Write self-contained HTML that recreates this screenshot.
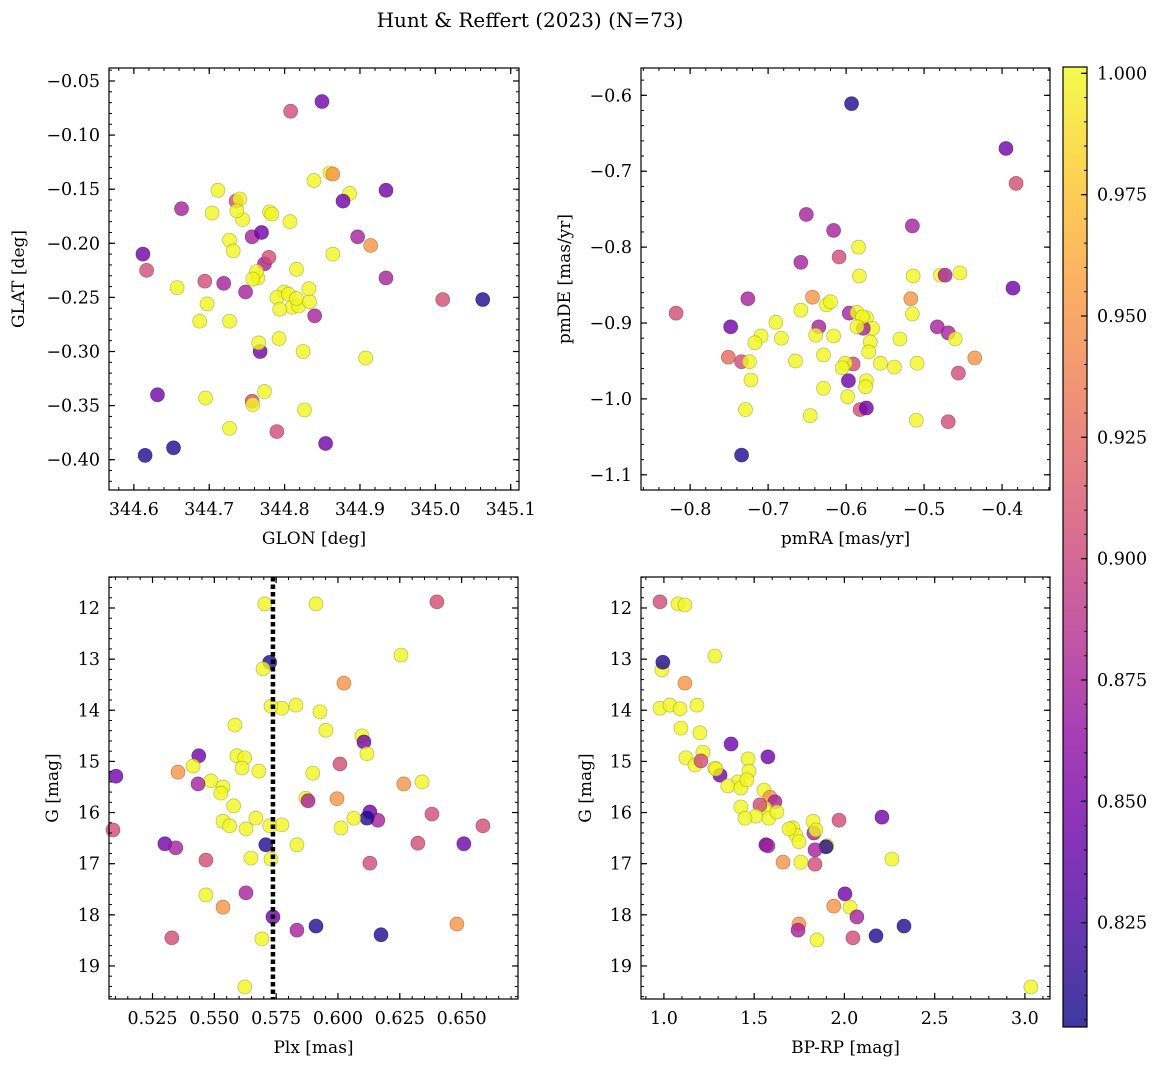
<!DOCTYPE html>
<html><head><meta charset="utf-8">
<style>
body{margin:0;background:#fff;}
svg{display:block;font-family:"DejaVu Serif","Liberation Serif",serif;}
</style></head>
<body>
<svg id="chart" width="1161" height="1067" viewBox="0 0 1161 1067" xmlns="http://www.w3.org/2000/svg">
<text x="530" y="27" font-size="20" text-anchor="middle">Hunt &amp; Reffert (2023) (N=73)</text>
</svg>
<script>
// ---- Panel 1: GLON vs GLAT ----
const p1Lon=[344.6120,344.6169,344.6632,344.6574,344.7115,344.7038,344.6941,344.6970,344.7192,344.6873,
344.7269,344.6951,344.6313,344.6149,344.6526,344.7269,344.7356,344.7404,344.7443,344.7366,
344.7269,344.7318,344.7569,344.7694,344.7733,344.7791,344.7646,344.7627,344.7578,344.7482,
344.7675,344.7656,344.7733,344.7569,344.7578,344.7897,344.7800,344.7829,344.8071,344.8080,
344.8496,344.8602,344.8640,344.8389,344.8862,344.8640,344.8969,344.9142,344.8775,344.9345,
344.9345,344.7993,344.7897,344.8051,344.8100,344.8187,344.8158,344.7935,344.8399,344.8331,
344.8322,344.7926,344.8158,344.8245,344.8264,344.8544,344.9075,345.0098,345.0629];
const p1Lat=[-0.210,-0.225,-0.168,-0.241,-0.151,-0.172,-0.235,-0.256,-0.237,-0.272,
-0.272,-0.343,-0.340,-0.396,-0.389,-0.371,-0.161,-0.159,-0.178,-0.170,
-0.197,-0.207,-0.194,-0.190,-0.219,-0.213,-0.232,-0.226,-0.233,-0.245,
-0.300,-0.292,-0.337,-0.346,-0.349,-0.374,-0.171,-0.173,-0.180,-0.078,
-0.069,-0.135,-0.136,-0.142,-0.154,-0.210,-0.194,-0.202,-0.161,-0.151,
-0.232,-0.245,-0.250,-0.247,-0.259,-0.258,-0.251,-0.261,-0.267,-0.254,
-0.242,-0.288,-0.224,-0.300,-0.354,-0.385,-0.306,-0.252,-0.252];
const p1Prob=[0.845,0.905,0.875,1,1,1,0.905,1,0.875,1,
1,1,0.845,0.81,0.81,1,0.905,1,1,1,
1,1,0.875,0.845,0.875,0.905,1,1,1,0.875,
0.845,1,1,0.905,1,0.905,1,1,1,0.905,
0.845,1,0.95,1,1,1,0.875,0.95,0.845,0.845,
0.875,1,1,1,1,1,1,1,0.875,1,
1,1,1,1,1,0.845,1,0.905,0.81];
// ---- Panel 2: pmRA vs pmDE ----
const p2Pmra=[-0.593,-0.395,-0.382,-0.651,-0.616,-0.515,-0.658,-0.609,-0.584,-0.583,
-0.514,-0.479,-0.473,-0.454,-0.386,-0.818,-0.726,-0.748,-0.643,-0.625,
-0.620,-0.596,-0.586,-0.574,-0.517,-0.515,-0.566,-0.531,-0.483,-0.469,
-0.460,-0.658,-0.690,-0.709,-0.717,-0.635,-0.639,-0.578,-0.579,-0.569,
-0.571,-0.616,-0.586,-0.629,-0.683,-0.665,-0.734,-0.724,-0.722,-0.591,
-0.601,-0.605,-0.556,-0.538,-0.509,-0.456,-0.435,-0.597,-0.574,-0.575,
-0.629,-0.598,-0.582,-0.574,-0.510,-0.469,-0.646,-0.729,-0.734,-0.751];
const p2Pmde=[-0.611,-0.670,-0.716,-0.757,-0.778,-0.772,-0.820,-0.813,-0.800,-0.838,
-0.838,-0.837,-0.837,-0.834,-0.854,-0.887,-0.868,-0.905,-0.866,-0.876,
-0.872,-0.887,-0.886,-0.893,-0.868,-0.888,-0.907,-0.921,-0.905,-0.913,
-0.921,-0.883,-0.899,-0.917,-0.926,-0.905,-0.916,-0.907,-0.892,-0.925,
-0.938,-0.917,-0.905,-0.942,-0.920,-0.950,-0.951,-0.951,-0.975,-0.954,
-0.953,-0.959,-0.953,-0.958,-0.953,-0.966,-0.946,-0.976,-0.976,-0.984,
-0.986,-0.997,-1.014,-1.012,-1.028,-1.030,-1.022,-1.014,-1.074,-0.945];
const p2Prob=[0.81,0.845,0.905,0.875,0.875,0.875,0.875,0.905,1,1,
1,1,0.875,1,0.845,0.905,0.875,0.845,0.95,1,
1,0.875,1,1,0.95,1,1,1,0.875,0.875,
1,1,1,1,1,0.875,1,0.875,1,1,
1,1,1,1,1,1,0.905,1,1,0.905,
1,1,1,1,1,0.905,0.95,0.845,1,1,
1,1,0.905,0.845,1,0.905,1,1,0.81,0.925];
// ---- Panel 3: Plx vs G ----
const p3Plx=[0.6400,0.5911,0.5704,0.5724,0.5697,0.6255,0.6024,0.5830,0.5773,0.5729,
0.5927,0.5951,0.5583,0.6097,0.6105,0.6117,0.5437,0.5591,0.5623,0.5612,
0.5414,0.6008,0.5102,0.5353,0.5680,0.5486,0.5535,0.5526,0.5434,0.5898,
0.6266,0.6340,0.5996,0.5870,0.5879,0.5578,0.5668,0.6129,0.6161,0.6117,
0.6064,0.5535,0.5562,0.5773,0.6012,0.5724,0.6380,0.5090,0.5628,0.5708,
0.5300,0.5344,0.5834,0.5729,0.5648,0.6323,0.6509,0.6586,0.6129,0.5466,
0.5466,0.5628,0.5535,0.5737,0.5911,0.5834,0.6174,0.5328,0.5692,0.6481,0.5623];
const p3G=[11.88,11.92,11.92,13.06,13.19,12.92,13.47,13.90,13.96,13.92,
14.03,14.39,14.29,14.50,14.62,14.85,14.89,14.89,14.93,15.13,
15.09,15.05,15.29,15.21,15.19,15.38,15.50,15.62,15.44,15.23,
15.44,15.40,15.73,15.72,15.77,15.87,16.11,15.99,16.15,16.11,
16.11,16.17,16.26,16.24,16.30,16.26,16.03,16.34,16.32,16.63,
16.61,16.69,16.63,16.91,16.89,16.60,16.61,16.26,16.99,16.93,
17.61,17.57,17.85,18.04,18.22,18.30,18.39,18.45,18.47,18.18,19.41];
const p3Prob=[0.905,1,1,0.81,1,1,0.95,1,1,1,
1,1,1,1,0.845,1,0.845,1,1,1,
1,0.905,0.845,0.95,1,1,1,1,0.875,1,
0.95,1,0.95,1,0.875,1,1,0.845,0.875,0.81,
1,1,1,1,1,1,0.905,0.905,1,0.81,
0.845,0.875,1,1,1,0.905,0.845,0.905,0.905,0.905,
1,0.875,0.95,0.845,0.81,0.875,0.81,0.905,1,0.95,1];
const p3Ref=[0.5737];
// ---- Panel 4: BP-RP vs G ----
const p4Bprp=[0.978,1.078,1.116,0.989,0.994,1.282,1.116,0.978,1.033,1.089,
1.183,1.094,1.372,1.199,1.216,1.122,1.172,1.205,1.282,1.311,
1.288,1.466,1.471,1.410,1.354,1.426,1.460,1.576,1.554,1.588,
1.615,1.559,1.532,1.581,1.626,1.426,1.509,1.449,1.970,1.826,
1.831,1.842,1.714,1.731,1.693,2.208,1.565,1.576,1.748,1.903,
1.898,1.837,1.660,1.759,2.263,1.837,2.003,2.031,1.941,2.069,
1.748,1.743,1.848,2.047,2.175,2.330,3.033];
const p4G=[11.88,11.92,11.94,13.21,13.06,12.94,13.47,13.96,13.90,13.97,
13.90,14.35,14.66,14.44,14.82,14.93,15.07,14.99,15.13,15.27,
15.15,14.95,15.19,15.40,15.48,15.52,15.36,14.91,15.56,15.70,
15.79,15.91,15.85,16.11,15.99,15.89,16.07,16.11,16.15,16.17,
16.40,16.34,16.30,16.44,16.32,16.09,16.63,16.65,16.57,16.65,
16.67,16.73,16.97,16.97,16.91,17.01,17.59,17.85,17.83,18.04,
18.18,18.30,18.49,18.45,18.41,18.22,19.41];
const p4Prob=[0.905,1,1,1,0.81,1,0.95,1,1,1,
1,1,0.845,1,1,1,1,0.905,1,0.845,
1,1,1,1,1,1,1,0.845,1,0.95,
0.875,1,0.905,1,1,1,1,1,0.905,1,
0.875,1,1,1,1,0.845,0.845,0.875,1,1,
0.81,0.875,0.95,1,1,0.905,0.845,1,0.95,0.875,
0.95,0.875,1,0.905,0.81,0.81,1];
// ---- colorbar ----
const cbTicks=[0.825,0.850,0.875,0.900,0.925,0.950,0.975,1.000];
const vmin=0.8035, vmax=1.0013;

const NS="http://www.w3.org/2000/svg";
const svg=document.getElementById('chart');
function el(tag,attrs,parent){const e=document.createElementNS(NS,tag);for(const k in attrs)e.setAttribute(k,attrs[k]);(parent||svg).appendChild(e);return e;}
const plasma=[[13,8,135],[65,4,157],[106,0,168],[143,13,164],[177,42,144],[204,71,120],[225,100,98],[242,132,75],[252,166,54],[252,206,37],[240,249,33]];
function cmap(v){let t=(v-vmin)/(vmax-vmin);t=Math.max(0,Math.min(1,t))*10;const i=Math.min(9,Math.floor(t)),f=t-i;const a=plasma[i],b=plasma[i+1];return a.map((c,k)=>Math.round(c+(b[k]-c)*f));}
function rgb(c){return 'rgb('+c.join(',')+')';}
function fmt(v,d){const s=Math.abs(v).toFixed(d);return (v<-1e-9?'\u2212':'')+s;}

function panel(cfg){
  const g=el('g',{});
  
  
  const {L,T,R,B}=cfg;
  const sx=v=>L+(v-cfg.x0)/(cfg.x1-cfg.x0)*(R-L);
  const sy=v=>T+(v-cfg.y0)/(cfg.y1-cfg.y0)*(B-T);
  const pg=el('g',{},g);
  
  
  const n=Math.min(cfg.xs.length,cfg.ys.length,cfg.ps.length);
  for(let i=0;i<n;i++){
    const c=cmap(cfg.ps[i]);
    const c2=c.map(v=>Math.round(v*0.6));
    const dot=el('circle',{cx:sx(cfg.xs[i]),cy:sy(cfg.ys[i]),r:7,fill:rgb(c),'fill-opacity':0.8,stroke:rgb(c2),'stroke-opacity':0.6,'stroke-width':0.7},pg);
    
    
  }
  if(cfg.vline){cfg.vline.forEach(v=>{const ln=el('line',{x1:sx(v),x2:sx(v),y1:T,y2:B,stroke:'#000','stroke-width':4.5,'stroke-dasharray':'4.5,3'},g);
    
    });}
  const fr=el('rect',{x:L,y:T,width:R-L,height:B-T,fill:'none',stroke:'#000','stroke-width':1.2},g);
  
  
  for(let v=cfg.xmin0;v<=cfg.x1+1e-9;v+=cfg.xminor){const x=sx(v);if(x<L-0.5||x>R+0.5)continue;
    el('line',{x1:x,x2:x,y1:B,y2:B-3,stroke:'#000','stroke-width':1},g);el('line',{x1:x,x2:x,y1:T,y2:T+3,stroke:'#000','stroke-width':1},g);}
  cfg.xticks.forEach(v=>{const x=sx(v);
    el('line',{x1:x,x2:x,y1:B,y2:B-6,stroke:'#000','stroke-width':1.2},g);el('line',{x1:x,x2:x,y1:T,y2:T+6,stroke:'#000','stroke-width':1.2},g);
    const t=el('text',{x:x,y:B+25,'font-size':17.5,'text-anchor':'middle'},g);t.textContent=fmt(v,cfg.xd);
    
    });
  const ylo=Math.min(cfg.y0,cfg.y1),yhi=Math.max(cfg.y0,cfg.y1);
  for(let v=cfg.ymin0;v<=yhi+1e-9;v+=cfg.yminor){if(v<ylo-1e-9)continue;const y=sy(v);
    el('line',{x1:L,x2:L+3,y1:y,y2:y,stroke:'#000','stroke-width':1},g);el('line',{x1:R,x2:R-3,y1:y,y2:y,stroke:'#000','stroke-width':1},g);}
  cfg.yticks.forEach(v=>{const y=sy(v);
    el('line',{x1:L,x2:L+6,y1:y,y2:y,stroke:'#000','stroke-width':1.2},g);el('line',{x1:R,x2:R-6,y1:y,y2:y,stroke:'#000','stroke-width':1.2},g);
    const t=el('text',{x:L-9,y:y+6,'font-size':17.5,'text-anchor':'end'},g);t.textContent=fmt(v,cfg.yd);
    
    });
  const xl=el('text',{x:(L+R)/2,y:B+54,'font-size':17,'text-anchor':'middle'},g);xl.textContent=cfg.xlabel;
  
  
  const yx=cfg.ylx,yy=(T+B)/2;
  const yl=el('text',{x:yx,y:yy,'font-size':17,'text-anchor':'middle',transform:`rotate(-90 ${yx} ${yy})`},g);yl.textContent=cfg.ylabel;
  
  
}
function range(a,b,s){const r=[];for(let v=a;v<=b+s*1e-6;v+=s)r.push(+v.toFixed(6));return r;}

panel({name:'panel-glon-glat',L:109,T:68,R:519,B:490,x0:344.567,x1:345.111,y0:-0.038,y1:-0.428,
  xs:p1Lon,ys:p1Lat,ps:p1Prob,xticks:range(344.6,345.1,0.1),xd:1,xmin0:344.58,xminor:0.02,
  yticks:range(-0.40,-0.05,0.05),yd:2,ymin0:-0.42,yminor:0.01,xlabel:'GLON [deg]',ylabel:'GLAT [deg]',ylx:24});
panel({name:'panel-pmra-pmde',L:641,T:68,R:1050,B:490,x0:-0.863,x1:-0.3385,y0:-0.564,y1:-1.120,
  xs:p2Pmra,ys:p2Pmde,ps:p2Prob,xticks:range(-0.8,-0.4,0.1),xd:1,xmin0:-0.86,xminor:0.02,
  yticks:range(-1.1,-0.6,0.1),yd:1,ymin0:-1.12,yminor:0.02,xlabel:'pmRA [mas/yr]',ylabel:'pmDE [mas/yr]',ylx:570});
panel({name:'panel-plx-g',L:109,T:577,R:518,B:999,x0:0.5074,x1:0.6728,y0:11.394,y1:19.646,
  xs:p3Plx,ys:p3G,ps:p3Prob,vline:p3Ref,xticks:range(0.525,0.650,0.025),xd:3,xmin0:0.510,xminor:0.005,
  yticks:range(12,19,1),yd:0,ymin0:11.4,yminor:0.2,xlabel:'Plx [mas]',ylabel:'G [mag]',ylx:58});
panel({name:'panel-bprp-g',L:641,T:577,R:1050,B:999,x0:0.873,x1:3.139,y0:11.394,y1:19.646,
  xs:p4Bprp,ys:p4G,ps:p4Prob,xticks:range(1.0,3.0,0.5),xd:1,xmin0:0.9,xminor:0.1,
  yticks:range(12,19,1),yd:0,ymin0:11.4,yminor:0.2,xlabel:'BP-RP [mag]',ylabel:'G [mag]',ylx:591});

(function(){
  const L=1063,R=1087,T=67,B=1027;
  const cb=el('g',{});
  
  
  const defs=el('defs',{},cb);
  const lg=el('linearGradient',{id:'cbg',x1:0,y1:1,x2:0,y2:0},defs);
  for(let i=0;i<=10;i++){el('stop',{offset:i/10,'stop-color':rgb(plasma[i]),'stop-opacity':0.8},lg);}
  el('rect',{x:L,y:T,width:R-L,height:B-T,fill:'url(#cbg)',stroke:'#000','stroke-width':1.2},cb);
  const sy=v=>B-(v-vmin)/(vmax-vmin)*(B-T);
  for(let v=0.805;v<=1.0001;v+=0.005){const y=sy(v);el('line',{x1:R,x2:R-3,y1:y,y2:y,stroke:'#000','stroke-width':1},cb);}
  cbTicks.forEach(v=>{const y=sy(v);el('line',{x1:R,x2:R-6,y1:y,y2:y,stroke:'#000','stroke-width':1.2},cb);
    const t=el('text',{x:R+10,y:y+6,'font-size':17.5},cb);t.textContent=v.toFixed(3);
    
    });
})();
</script>
</body></html>
